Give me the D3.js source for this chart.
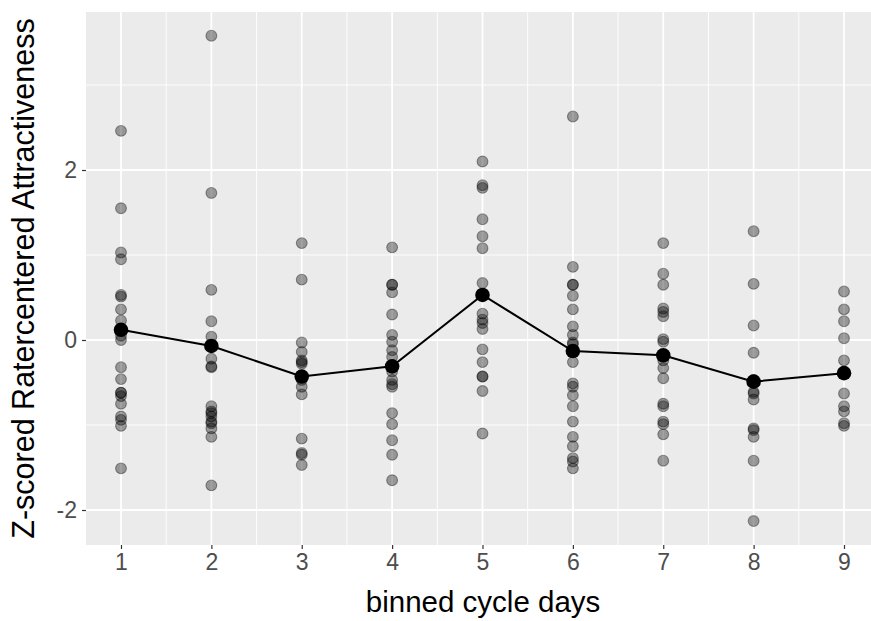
<!DOCTYPE html>
<html>
<head>
<meta charset="utf-8">
<script src="https://cdn.jsdelivr.net/npm/d3@7"></script>
<style>
    body { margin: 0; background: #fff; }
    text { font-family: "Liberation Sans", Arial, Helvetica, sans-serif; }
</style>
</head>
<body>
<div id="chart"></div>
<script>
// binned cycle day -> z-scored ratings
const days = [1, 2, 3, 4, 5, 6, 7, 8, 9];
const day1 = [2.46, 1.55, 1.03, 0.95, 0.53, 0.51, 0.36, 0.23, 0.05, 0.0, -0.32, -0.46, -0.62, -0.62, -0.66, -0.75, -0.90, -0.94, -1.01, -1.51];
const day2 = [3.58, 1.73, 0.59, 0.22, 0.04, -0.22, -0.31, -0.32, -0.78, -0.84, -0.86, -0.90, -0.96, -0.98, -1.04, -1.14, -1.71];
const day3 = [1.14, 0.71, -0.03, -0.14, -0.24, -0.26, -0.28, -0.47, -0.55, -0.64, -1.16, -1.33, -1.35, -1.47];
const day4 = [1.09, 0.65, 0.65, 0.56, 0.30, 0.06, -0.02, -0.12, -0.20, -0.37, -0.47, -0.52, -0.55, -0.86, -0.99, -1.18, -1.35, -1.65];
const day5 = [2.10, 1.82, 1.79, 1.42, 1.22, 1.08, 0.67, 0.31, 0.24, 0.20, 0.13, -0.11, -0.26, -0.43, -0.43, -0.60, -1.10];
const day6 = [2.63, 0.86, 0.65, 0.65, 0.52, 0.36, 0.16, 0.06, -0.03, -0.05, -0.26, -0.51, -0.55, -0.65, -0.78, -0.96, -1.14, -1.25, -1.39, -1.43, -1.51];
const day7 = [1.14, 0.78, 0.65, 0.37, 0.33, 0.28, 0.01, -0.02, -0.24, -0.33, -0.45, -0.75, -0.78, -0.96, -0.99, -1.11, -1.42];
const day8 = [1.28, 0.66, 0.17, -0.15, -0.47, -0.61, -0.63, -0.70, -1.04, -1.06, -1.14, -1.42, -2.13];
const day9 = [0.57, 0.36, 0.22, 0.02, -0.24, -0.63, -0.78, -0.84, -0.98, -1.01];
const means = [0.12, -0.07, -0.43, -0.31, 0.53, -0.13, -0.18, -0.49, -0.39];

const yTicks = [-2, 0, 2];
const yMinor = [-1, 1, 3];
const xMinor = [1.5, 2.5, 3.5, 4.5, 5.5, 6.5, 7.5, 8.5];

document.addEventListener('DOMContentLoaded', () => {
    const width = 871;
    const height = 621;
    const panel = { left: 86, top: 12, right: 871, bottom: 545 };

    const ratings = [day1, day2, day3, day4, day5, day6, day7, day8, day9];
    const points = [];
    days.forEach((d, i) => ratings[i].forEach(v => points.push({ day: d, value: v })));

    const x = d3.scaleLinear().domain([1, 9]).range([121, 844]);
    const y = d3.scaleLinear().domain([-2, 2]).range([510, 170]);

    const svg = d3.select("#chart")
        .append("svg")
        .attr("width", width)
        .attr("height", height);

    svg.append("rect")
        .attr("x", panel.left)
        .attr("y", panel.top)
        .attr("width", panel.right - panel.left)
        .attr("height", panel.bottom - panel.top)
        .attr("fill", "#EBEBEB");

    const grid = svg.append("g");

    grid.selectAll(".ymin").data(yMinor).enter().append("line")
        .attr("x1", panel.left).attr("x2", panel.right)
        .attr("y1", d => y(d)).attr("y2", d => y(d))
        .attr("stroke", "#fff").attr("stroke-width", 0.9);

    grid.selectAll(".xmin").data(xMinor).enter().append("line")
        .attr("y1", panel.top).attr("y2", panel.bottom)
        .attr("x1", d => x(d)).attr("x2", d => x(d))
        .attr("stroke", "#fff").attr("stroke-width", 0.9);

    grid.selectAll(".ymaj").data(yTicks).enter().append("line")
        .attr("x1", panel.left).attr("x2", panel.right)
        .attr("y1", d => y(d)).attr("y2", d => y(d))
        .attr("stroke", "#fff").attr("stroke-width", 1.8);

    grid.selectAll(".xmaj").data(days).enter().append("line")
        .attr("y1", panel.top).attr("y2", panel.bottom)
        .attr("x1", d => x(d)).attr("x2", d => x(d))
        .attr("stroke", "#fff").attr("stroke-width", 1.8);

    // raw points, semi transparent
    svg.append("g").selectAll("circle")
        .data(points)
        .enter().append("circle")
        .attr("cx", d => x(d.day))
        .attr("cy", d => y(d.value))
        .attr("r", 5.4)
        .attr("fill", "#000")
        .attr("fill-opacity", 0.36)
        .attr("stroke", "#000")
        .attr("stroke-opacity", 0.38)
        .attr("stroke-width", 1.1);

    const line = d3.line()
        .x((d, i) => x(days[i]))
        .y(d => y(d));

    svg.append("path")
        .datum(means)
        .attr("d", line)
        .attr("fill", "none")
        .attr("stroke", "#000")
        .attr("stroke-width", 2);

    svg.append("g").selectAll("circle")
        .data(means)
        .enter().append("circle")
        .attr("cx", (d, i) => x(days[i]))
        .attr("cy", d => y(d))
        .attr("r", 7.3)
        .attr("fill", "#000");

    // axes
    const xAxis = svg.append("g")
        .attr("transform", `translate(0,${panel.bottom})`)
        .call(d3.axisBottom(x).tickValues(days).tickSize(4).tickPadding(5).tickFormat(d3.format("d")));

    const yAxis = svg.append("g")
        .attr("transform", `translate(${panel.left},0)`)
        .call(d3.axisLeft(y).tickValues(yTicks).tickSize(4).tickPadding(5).tickFormat(d => d < 0 ? "-" + Math.abs(d) : d));

    [xAxis, yAxis].forEach(a => {
        a.select(".domain").remove();
        a.selectAll(".tick line").attr("stroke", "#333").attr("stroke-width", 1.2);
        a.selectAll(".tick text")
            .attr("fill", "#4D4D4D")
            .style("font-size", "23px")
            .style("font-family", "'Liberation Sans', Arial, sans-serif");
    });

    svg.append("text")
        .attr("x", (panel.left + x(9.4)) / 2)
        .attr("y", 612)
        .attr("text-anchor", "middle")
        .style("font-size", "29.5px")
        .attr("fill", "#000")
        .text("binned cycle days");

    svg.append("text")
        .attr("transform", `translate(34,${(panel.top + panel.bottom) / 2}) rotate(-90)`)
        .attr("text-anchor", "middle")
        .style("font-size", "30.5px")
        .attr("fill", "#000")
        .text("Z-scored Ratercentered Attractiveness");
});
</script>
</body>
</html>
